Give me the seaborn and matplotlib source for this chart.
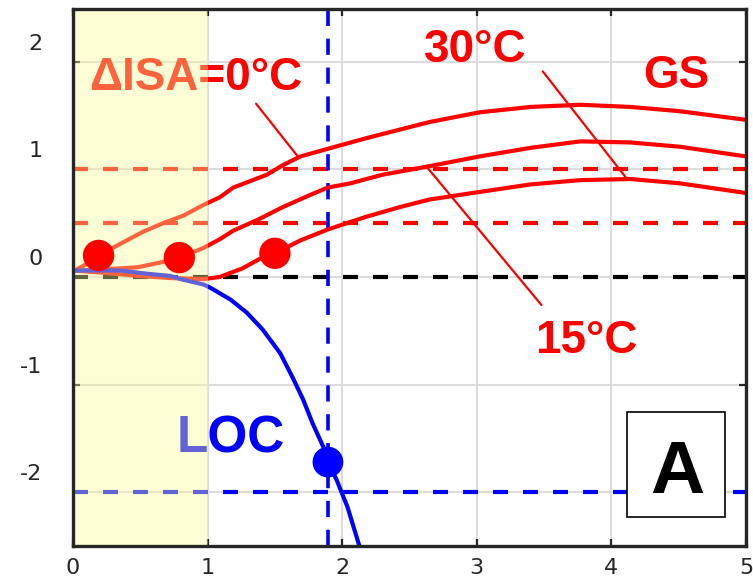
import matplotlib
matplotlib.use("Agg")
import matplotlib.pyplot as plt
import matplotlib.transforms as mtrans
from matplotlib.patches import Rectangle
import seaborn as sns

# ---------------- data ----------------
x_isa0 = [0.0, 0.10, 0.19, 0.37, 0.52, 0.67, 0.82, 0.97, 1.09, 1.19, 1.44, 1.56, 1.69, 1.89,
          2.18, 2.43, 2.65, 3.02, 3.40, 3.77, 4.14, 4.51, 5.00]
y_isa0 = [0.05, 0.12, 0.20, 0.32, 0.42, 0.50, 0.57, 0.67, 0.74, 0.83, 0.95, 1.04, 1.12, 1.19,
          1.29, 1.37, 1.44, 1.53, 1.58, 1.60, 1.58, 1.54, 1.46]

x_isa15 = [0.0, 0.22, 0.48, 0.67, 0.79, 0.97, 1.09, 1.19, 1.37, 1.56, 1.74, 1.89, 2.06, 2.30,
           2.65, 3.02, 3.40, 3.77, 4.14, 4.51, 5.00]
y_isa15 = [0.06, 0.07, 0.09, 0.14, 0.18, 0.27, 0.35, 0.43, 0.53, 0.65, 0.75, 0.83, 0.87, 0.95,
           1.03, 1.12, 1.20, 1.26, 1.25, 1.21, 1.12]

x_isa30 = [0.0, 0.22, 0.48, 0.72, 0.97, 1.09, 1.26, 1.39, 1.50, 1.69, 1.89, 2.01, 2.18, 2.43,
           2.65, 3.02, 3.40, 3.77, 4.14, 4.51, 5.00]
y_isa30 = [0.06, 0.04, 0.01, -0.01, -0.02, 0.00, 0.08, 0.17, 0.22, 0.34, 0.44, 0.49, 0.56, 0.65,
           0.72, 0.79, 0.86, 0.90, 0.91, 0.87, 0.78]

x_loc = [0.0, 0.20, 0.35, 0.55, 0.72, 0.80, 0.97, 1.02, 1.17, 1.29, 1.41, 1.54, 1.63, 1.71,
         1.78, 1.86, 1.894, 1.96, 2.04, 2.13, 2.16]
y_loc = [0.06, 0.06, 0.06, 0.03, 0.01, -0.02, -0.07, -0.10, -0.21, -0.33, -0.49, -0.71, -0.93, -1.14,
         -1.36, -1.58, -1.72, -1.89, -2.14, -2.51, -2.62]

gs_pts_x = [0.19, 0.79, 1.50]
gs_pts_y = [0.20, 0.18, 0.22]
loc_pt_x = [1.894]
loc_pt_y = [-1.72]

gs_limits = [1.0, 0.5]
zero_line = 0.0
loc_limit = -2.0
loc_x_limit = 1.894
shade_x = [0.0, 1.0]

xticks = [0, 1, 2, 3, 4, 5]
yticks = [-2, -1, 0, 1, 2]
ytick_labels = ["-2", "-1", "0", "1", "2"]

labels = ["\u0394ISA=0\u00b0C", "30\u00b0C", "15\u00b0C", "GS", "LOC", "A"]

# ---------------- style ----------------
sns.set_theme(style="white")
plt.rcParams["font.family"] = ["DejaVu Sans"]
BOLD = ["Liberation Sans", "DejaVu Sans"]
RED = "#FF0000"
BLUE = "#0000FF"
DARK = "#262626"

fig = plt.figure(figsize=(7.53, 5.80), dpi=100)
ax = fig.add_axes([73 / 753, 1 - 546 / 580, (746 - 73) / 753, (546 - 9) / 580])

ax.set_xlim(0, 5)
ax.set_ylim(-2.5, 2.49)

# grid
ax.set_axisbelow(True)
ax.grid(True, color="#dcdcdc", lw=1.5)

# dashed reference lines
dash = (3.6, 3.6)
for yv in gs_limits:
    ax.axhline(yv, color=RED, lw=3, dashes=dash, zorder=2)
ax.axhline(zero_line, color="black", lw=3, dashes=dash, zorder=2)
ax.axhline(loc_limit, color=BLUE, lw=3, dashes=dash, zorder=2)
ax.axvline(loc_x_limit, color=BLUE, lw=2.6, dashes=(4.5, 3.5), zorder=2)

# curves
for xs, ys in [(x_isa0, y_isa0), (x_isa15, y_isa15), (x_isa30, y_isa30)]:
    sns.lineplot(x=xs, y=ys, ax=ax, color=RED, lw=3, estimator=None, sort=False, zorder=2.5,
                 solid_joinstyle="round", solid_capstyle="round")
sns.lineplot(x=x_loc, y=y_loc, ax=ax, color=BLUE, lw=3, estimator=None, sort=False, zorder=2.5,
             solid_joinstyle="round", solid_capstyle="round")

# leader lines
ax.plot([1.36, 1.67], [1.61, 1.12], color=RED, lw=1.6, zorder=2.6)
ax.plot([3.49, 4.11], [1.91, 0.92], color=RED, lw=1.6, zorder=2.6)
ax.plot([2.63, 3.48], [1.02, -0.26], color=RED, lw=1.6, zorder=2.6)

# annotations
ax.text(0.91, 1.74, labels[0], color=RED, fontsize=33, fontweight="bold", family=BOLD,
        ha="center", va="baseline", zorder=3)
ax.text(2.99, 2.00, labels[1], color=RED, fontsize=33, fontweight="bold", family=BOLD,
        ha="center", va="baseline", zorder=3)
ax.text(3.81, -0.71, labels[2], color=RED, fontsize=33, fontweight="bold", family=BOLD,
        ha="center", va="baseline", zorder=3)
ax.text(4.48, 1.76, labels[3], color=RED, fontsize=33, fontweight="bold", family=BOLD,
        ha="center", va="baseline", zorder=3)
ax.text(1.17, -1.63, labels[4], color=BLUE, fontsize=37, fontweight="bold", family=BOLD,
        ha="center", va="baseline", zorder=3)

# shaded region (drawn over lines/text)
ax.axvspan(shade_x[0], shade_x[1], color=(0.98, 0.98, 0.60), alpha=0.4, lw=0, zorder=4)

# markers
sns.scatterplot(x=gs_pts_x, y=gs_pts_y, ax=ax, color=RED, s=510, edgecolor="none", zorder=5)
sns.scatterplot(x=loc_pt_x, y=loc_pt_y, ax=ax, color=BLUE, s=490, edgecolor="none", zorder=5)

# "A" box
ax.add_patch(Rectangle((4.48 - 0.3675, -1.744 - 0.4885), 0.735, 0.977, facecolor="white",
                       edgecolor="black", lw=1.2, zorder=6))
ax.text(4.49, -2.01, labels[5], color="black", fontsize=54, fontweight="bold", family=BOLD,
        ha="center", va="baseline", zorder=7)

# axes styling
for sp in ax.spines.values():
    sp.set_visible(True)
    sp.set_color(DARK)
    sp.set_linewidth(2.4)
    sp.set_zorder(8)

ax.set_xticks(xticks)
ax.set_xticklabels([str(v) for v in xticks])
ax.set_yticks(yticks)
ax.set_yticklabels(ytick_labels)
ax.tick_params(axis="both", which="major", direction="in", length=5, width=1.6,
               color=DARK, labelcolor=DARK, labelsize=16,
               top=True, right=True, bottom=True, left=True)
ax.tick_params(axis="x", pad=9)
ax.tick_params(axis="y", pad=22)

offset = mtrans.ScaledTranslation(0, 20 / 100, fig.dpi_scale_trans)
for lab in ax.get_yticklabels():
    lab.set_transform(lab.get_transform() + offset)

ax.set_xlabel("")
ax.set_ylabel("")
if ax.get_legend() is not None:
    ax.get_legend().remove()

fig.savefig("out.png", dpi=100)
